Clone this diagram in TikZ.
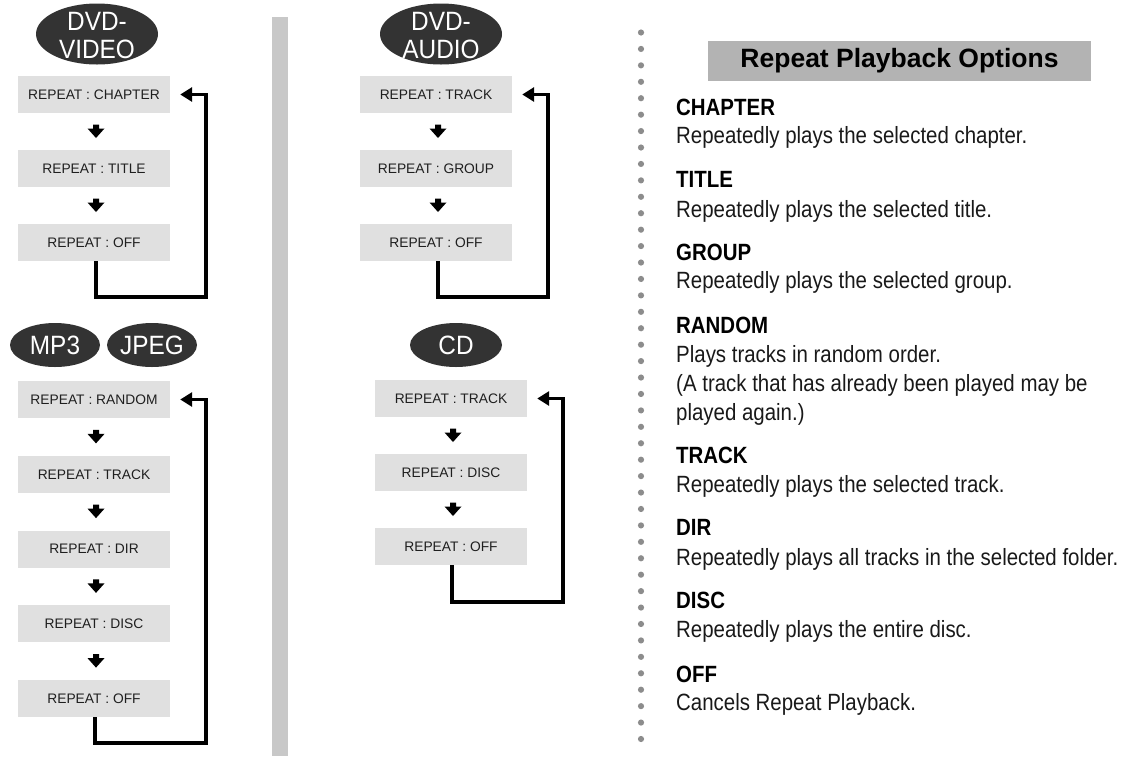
\documentclass[tikz,border=0pt]{standalone}
\usepackage{fontspec}
\setmainfont{Liberation Sans}
\newfontfamily\condfont[FakeStretch=0.87]{Liberation Sans}
\newfontfamily\disccond[FakeStretch=0.92]{Liberation Sans}
\usetikzlibrary{shapes.geometric,arrows.meta,calc}
\definecolor{boxgray}{HTML}{E0E0E0}
\definecolor{discgray}{HTML}{333333}
\definecolor{bargray}{HTML}{C8C8C8}
\definecolor{dotgray}{HTML}{8C8C8C}
\definecolor{titlegray}{HTML}{B3B3B3}
\begin{document}
\begin{tikzpicture}[x=1pt,y=-1pt,
  stepbox/.style={fill=boxgray, minimum width=152pt, minimum height=37pt, inner sep=0pt,
    font=\fontsize{13.8}{16}\selectfont, text=black!88},
  discshape/.style={ellipse, fill=discgray, inner sep=0pt},
  disctext/.style={text=white, inner sep=0pt, align=center, font=\disccond\fontsize{26.5}{28}\selectfont},
  loopline/.style={line width=3.3pt, -{Triangle[length=12pt,width=14pt]}},
  darrow/.pic={\fill (-3,-7) -- (3,-7) -- (3,-3) -- (8.5,-3) -- (0,6.5) -- (-8.5,-3) -- (-3,-3) -- cycle;},
  headtext/.style={anchor=base west, inner sep=0pt, text=black, font=\condfont\bfseries\fontsize{23.5}{27}\selectfont},
  desctext/.style={anchor=base west, inner sep=0pt, text=black!90, font=\condfont\fontsize{23.5}{27}\selectfont}
]
\useasboundingbox (0,0) rectangle (1139,756);

% separators
\fill[bargray] (272,17) rectangle (288,756);
\foreach \i in {0,...,43} \fill[dotgray] (641,32.5+\i*16.43) circle (3.1pt);

% ---- DVD-VIDEO ----
\node[discshape, minimum width=122pt, minimum height=61pt] (dvdv) at (97,34) {};
\node[disctext] (dvdvt) at (97,36) {DVD-\\VIDEO};
\node[stepbox] (v1) at (94,94.5) {REPEAT : CHAPTER};
\node[stepbox] (v2) at (94,168.5) {REPEAT : TITLE};
\node[stepbox] (v3) at (94,242.5) {REPEAT : OFF};
\pic at ($(v1.south)!0.5!(v2.north)+(2,0)$) {darrow};
\pic at ($(v2.south)!0.5!(v3.north)+(2,0)$) {darrow};
\coordinate (vc) at (206,297);
\draw[loopline] ([xshift=2pt]v3.south) |- (vc) |- ([xshift=10pt]v1.east);

% ---- MP3 / JPEG ----
\node[discshape, minimum width=90pt, minimum height=44pt] (mp3) at (55,345) {};
\node[disctext] (mp3t) at (mp3.center) {MP3};
\node[discshape, minimum width=90pt, minimum height=44pt] (jpeg) at (152,345) {};
\node[disctext] (jpegt) at (jpeg.center) {JPEG};
\node[stepbox] (m1) at (94,399.5) {REPEAT : RANDOM};
\node[stepbox] (m2) at (94,474.25) {REPEAT : TRACK};
\node[stepbox] (m3) at (94,549) {REPEAT : DIR};
\node[stepbox] (m4) at (94,623.75) {REPEAT : DISC};
\node[stepbox] (m5) at (94,698.5) {REPEAT : OFF};
\pic at ($(m1.south)!0.5!(m2.north)+(2,0)$) {darrow};
\pic at ($(m2.south)!0.5!(m3.north)+(2,0)$) {darrow};
\pic at ($(m3.south)!0.5!(m4.north)+(2,0)$) {darrow};
\pic at ($(m4.south)!0.5!(m5.north)+(2,0)$) {darrow};
\coordinate (mc) at (206,743);
\draw[loopline] ([xshift=1pt]m5.south) |- (mc) |- ([xshift=10pt]m1.east);

% ---- DVD-AUDIO ----
\node[discshape, minimum width=122pt, minimum height=61pt] (dvda) at (441,34) {};
\node[disctext] (dvdat) at (441,36) {DVD-\\AUDIO};
\node[stepbox] (a1) at (436,94.5) {REPEAT : TRACK};
\node[stepbox] (a2) at (436,168.5) {REPEAT : GROUP};
\node[stepbox] (a3) at (436,242.5) {REPEAT : OFF};
\pic at ($(a1.south)!0.5!(a2.north)+(2,0)$) {darrow};
\pic at ($(a2.south)!0.5!(a3.north)+(2,0)$) {darrow};
\coordinate (ac) at (548,297);
\draw[loopline] ([xshift=2pt]a3.south) |- (ac) |- ([xshift=10pt]a1.east);

% ---- CD ----
\node[discshape, minimum width=92pt, minimum height=44pt] (cd) at (456,345) {};
\node[disctext] (cdt) at (cd.center) {CD};
\node[stepbox] (c1) at (451,398.5) {REPEAT : TRACK};
\node[stepbox] (c2) at (451,472.5) {REPEAT : DISC};
\node[stepbox] (c3) at (451,546.5) {REPEAT : OFF};
\pic at ($(c1.south)!0.5!(c2.north)+(2,0)$) {darrow};
\pic at ($(c2.south)!0.5!(c3.north)+(2,0)$) {darrow};
\coordinate (cc) at (563,602);
\draw[loopline] ([xshift=1pt]c3.south) |- (cc) |- ([xshift=10pt]c1.east);

% ---- Options text ----
\node[fill=titlegray, minimum width=383pt, minimum height=40pt, inner sep=0pt,
  font=\bfseries\fontsize{26.5}{30}\selectfont] (title) at (899.5,61) {Repeat Playback Options};

\node[headtext] (h1) at (676,115) {CHAPTER};
\node[desctext] (d1) at (676,143) {Repeatedly plays the selected chapter.};
\node[headtext] (h2) at (676,187) {TITLE};
\node[desctext] (d2) at (676,217) {Repeatedly plays the selected title.};
\node[headtext] (h3) at (676,260) {GROUP};
\node[desctext] (d3) at (676,288) {Repeatedly plays the selected group.};
\node[headtext] (h4) at (676,333) {RANDOM};
\node[desctext] (d4a) at (676,362) {Plays tracks in random order.};
\node[desctext] (d4b) at (676,391) {(A track that has already been played may be};
\node[desctext] (d4c) at (676,420) {played again.)};
\node[headtext] (h5) at (676,463) {TRACK};
\node[desctext] (d5) at (676,492) {Repeatedly plays the selected track.};
\node[headtext] (h6) at (676,535) {DIR};
\node[desctext] (d6) at (676,565) {Repeatedly plays all tracks in the selected folder.};
\node[headtext] (h7) at (676,608) {DISC};
\node[desctext] (d7) at (676,637) {Repeatedly plays the entire disc.};
\node[headtext] (h8) at (676,682) {OFF};
\node[desctext] (d8) at (676,710) {Cancels Repeat Playback.};
\end{tikzpicture}
\end{document}
